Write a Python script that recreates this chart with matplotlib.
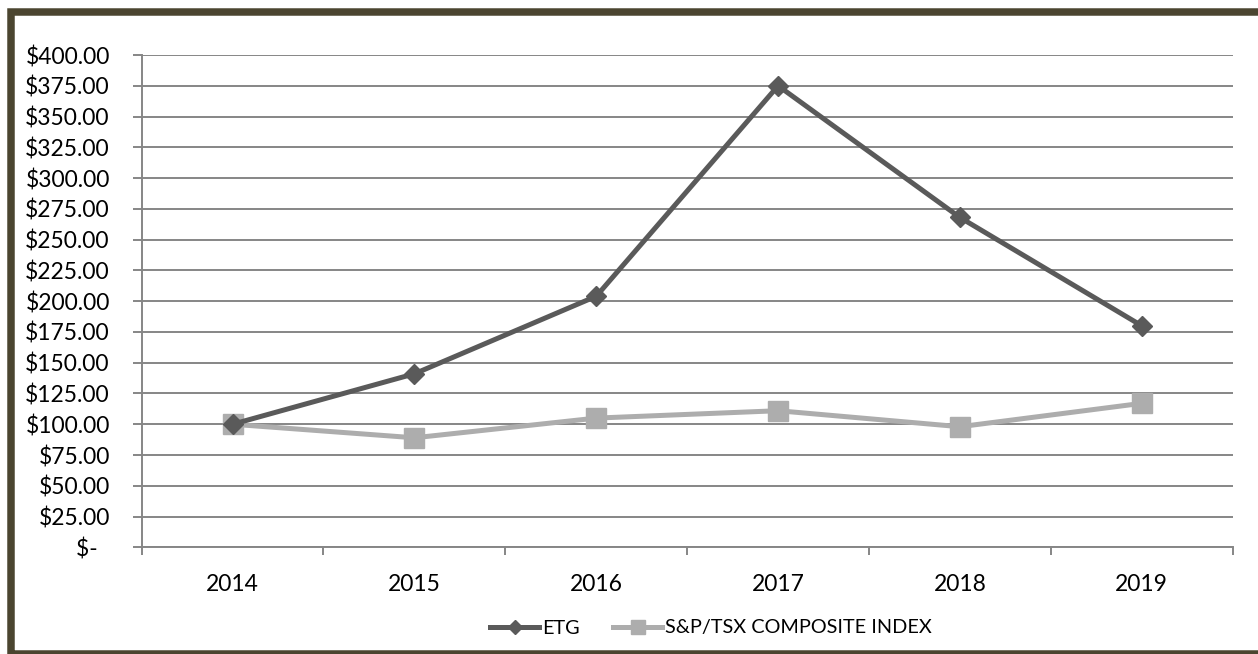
import matplotlib
matplotlib.use("Agg")
import matplotlib.pyplot as plt
from matplotlib.patches import Rectangle
from matplotlib.lines import Line2D

##- Données -##
years = ["2014", "2015", "2016", "2017", "2018", "2019"]
etg = [100.0, 141.0, 204.0, 375.0, 268.0, 180.0]
tsx = [100.0, 89.0, 105.0, 111.0, 98.0, 117.0]
y_ticks = [0, 25, 50, 75, 100, 125, 150, 175, 200, 225, 250, 275, 300, 325, 350, 375, 400]
y_labels = ["$-  "] + ["${:.2f}".format(v) for v in y_ticks[1:]]

plt.rcParams["font.family"] = ["Lato", "DejaVu Sans"]

fig = plt.figure(figsize=(12.58, 6.54), dpi=100)
ax = fig.add_axes([0.1126, 0.1631, 0.8673, 0.7528])

grid_col = "#868686"
x = list(range(len(years)))

ax.plot(x, etg, color="#5a5a5a", lw=3.6, marker="D", ms=10, label="ETG", zorder=4)
ax.plot(x, tsx, color="#adadad", lw=3.6, marker="s", ms=14, label="S&P/TSX COMPOSITE INDEX", zorder=3)

ax.set_xlim(-0.5, 5.5)
ax.set_ylim(0, 400)
ax.set_yticks(y_ticks)
ax.set_yticklabels(y_labels)
ax.set_xticks(x)
ax.set_xticklabels(years)
ax.set_xticks([i + 0.5 for i in range(-1, 6)], minor=True)

ax.yaxis.grid(True, color=grid_col, lw=1.4)
ax.set_axisbelow(True)
for s in ["top", "right"]:
    ax.spines[s].set_visible(False)
for s in ["left", "bottom"]:
    ax.spines[s].set_color(grid_col)
    ax.spines[s].set_linewidth(1.4)

ax.tick_params(axis="y", length=6.5, width=1.4, color=grid_col, pad=16.5, labelsize=16.5)
ax.tick_params(axis="x", which="major", length=0, pad=19, labelsize=16.5)
ax.tick_params(axis="x", which="minor", length=6, width=1.4, color=grid_col)

# légende en bas
h1 = Line2D([], [], color="#5a5a5a", lw=3.6, marker="D", ms=7)
h2 = Line2D([], [], color="#adadad", lw=3.6, marker="s", ms=10)
fig.legend([h1, h2], ["ETG", "S&P/TSX COMPOSITE INDEX"], loc="center",
           bbox_to_anchor=(711 / 1258, 1 - 628 / 654), ncol=2, frameon=False,
           fontsize=14.3, handlelength=2.5, handletextpad=0.15, columnspacing=1.65)

# cadre
fig.patches.append(Rectangle((11 / 1258, 0.0), 1.0, 1 - 11.5 / 654,
                             transform=fig.transFigure, fill=False,
                             edgecolor="#4b4530", lw=5.4, zorder=10))

fig.savefig("out.png", dpi=100)
